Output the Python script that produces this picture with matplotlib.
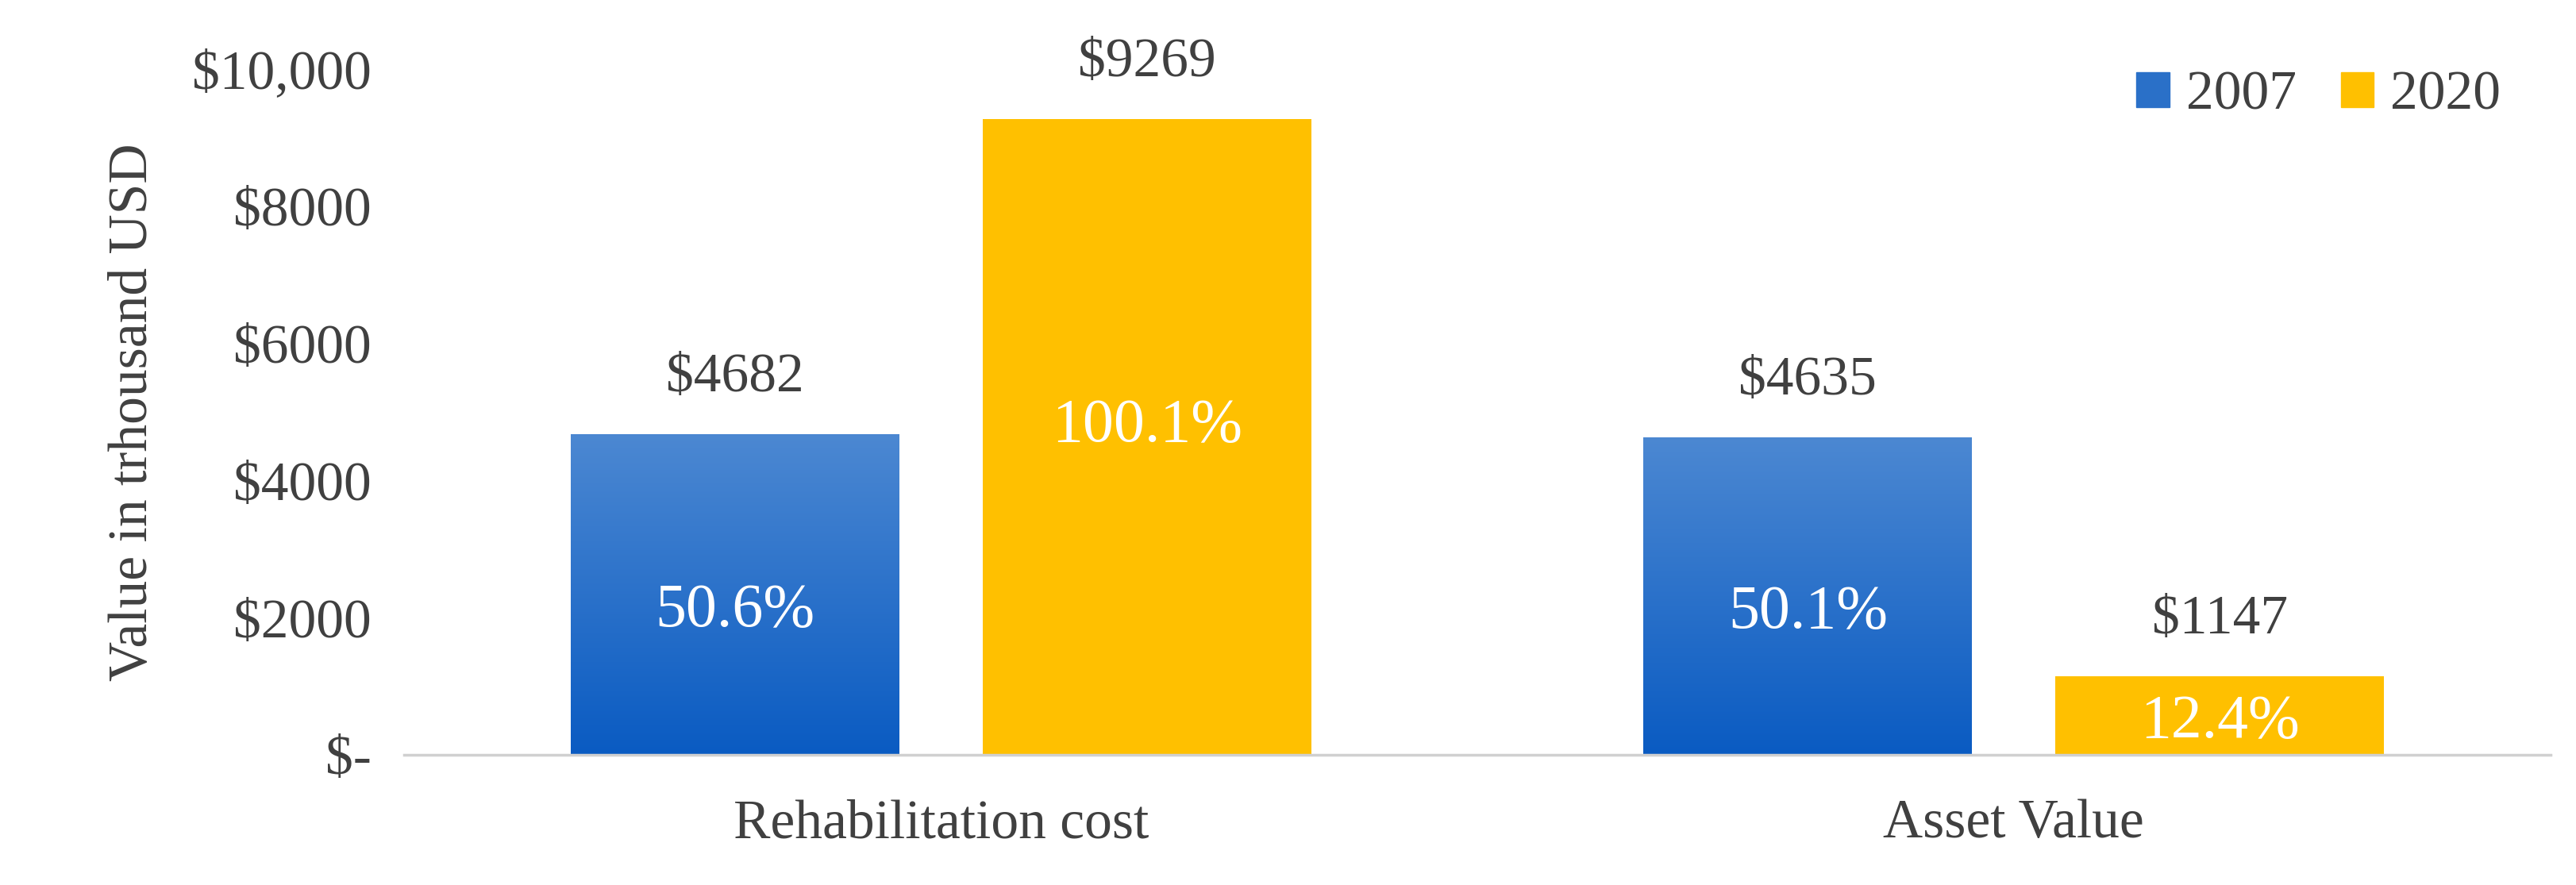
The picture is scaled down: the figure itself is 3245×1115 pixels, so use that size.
import numpy as np
import matplotlib
matplotlib.use('Agg')
import matplotlib.pyplot as plt
from matplotlib.colors import LinearSegmentedColormap

categories = ['Rehabilitation cost', 'Asset Value']
years = ['2007', '2020']
values_2007 = [4682, 4635]
values_2020 = [9269, 1147]
pct_2007 = ['50.6%', '50.1%']
pct_2020 = ['100.1%', '12.4%']
yticks = [0, 2000, 4000, 6000, 8000, 10000]
ytick_labels = ['$-', '$2000', '$4000', '$6000', '$8000', '$10,000']

plt.rcParams['font.family'] = ['Liberation Serif', 'DejaVu Serif']
fig = plt.figure(figsize=(32.45, 11.15), dpi=100)
ax = fig.add_axes([0.157, 0.147, 0.833, 0.775])

x = np.arange(len(categories))
w = 0.306
off = 0.192
blue_cmap = LinearSegmentedColormap.from_list('b', ['#0a5bc2', '#4c88d2'])
grad = np.linspace(0, 1, 256).reshape(-1, 1)

bars07 = ax.bar(x - off, values_2007, w, color='#2a70c8', label=years[0])
bars20 = ax.bar(x + off, values_2020, w, color='#ffc000', label=years[1])
for b in bars07:
    b.set_facecolor('none')
    im = ax.imshow(grad, cmap=blue_cmap, origin='lower', aspect='auto',
                   extent=[b.get_x(), b.get_x() + b.get_width(), 0, b.get_height()], zorder=1)
    im.set_clip_path(b)

fs = 50
for i in range(len(categories)):
    ax.text(x[i] - off, values_2007[i] + 450, '$%d' % values_2007[i], ha='center', va='bottom', fontsize=fs, color='#404040')
    ax.text(x[i] - off, values_2007[i] / 2 - 250, pct_2007[i], ha='center', va='center', fontsize=fs + 6, color='white')
    ax.text(x[i] + off, values_2020[i] + 450, '$%d' % values_2020[i], ha='center', va='bottom', fontsize=fs, color='#404040')
    if values_2020[i] > 3000:
        ax.text(x[i] + off, values_2020[i] / 2 + 150, pct_2020[i], ha='center', va='center', fontsize=fs + 6, color='white')
    else:
        ax.text(x[i] + off, values_2020[i] / 2 - 100, pct_2020[i], ha='center', va='center', fontsize=fs + 6, color='white')

ax.set_xlim(-0.5, 1.5)
ax.set_ylim(0, 10000)
ax.set_xticks(x)
ax.set_xticklabels(categories, fontsize=fs, color='#404040')
ax.set_yticks(yticks)
ax.set_yticklabels(ytick_labels, fontsize=fs, color='#404040')
ax.tick_params(length=0, pad=30)
ax.tick_params(axis='x', pad=40)
for s in ['top', 'right', 'left']:
    ax.spines[s].set_visible(False)
ax.spines['bottom'].set_color('#d0d0d0')
ax.spines['bottom'].set_linewidth(2.5)
ax.set_ylabel('Value in trhousand USD', fontsize=fs, color='#404040', labelpad=30)

handles = [plt.Rectangle((0, 0), 1, 1, color='#2a70c8'), plt.Rectangle((0, 0), 1, 1, color='#ffc000')]
ax.legend(handles, years, loc='upper right', bbox_to_anchor=(1.0, 1.07), ncol=2, frameon=False,
          fontsize=fs, handlelength=0.6, handleheight=0.6, columnspacing=0.8, handletextpad=0.3,
          labelcolor='#404040')

fig.savefig('out.png', dpi=100)
